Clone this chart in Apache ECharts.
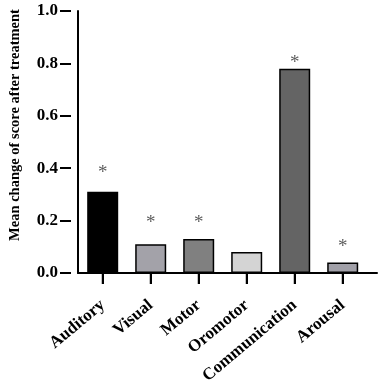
<!DOCTYPE html>
<html>
<head>
<meta charset="utf-8">
<script src="https://cdn.jsdelivr.net/npm/echarts@6/dist/echarts.min.js"></script>
<style>html,body{margin:0;padding:0;background:#fff;}#c{width:383px;height:387px;}</style>
</head>
<body>
<div id="c"></div>
<script>
var categories = ['Auditory', 'Visual', 'Motor', 'Oromotor', 'Communication', 'Arousal'];
var values = [0.31, 0.11, 0.13, 0.08, 0.78, 0.04];
var asteriskY = [0.40, 0.21, 0.21, null, 0.82, 0.12];
var yTicks = [0.0, 0.2, 0.4, 0.6, 0.8, 1.0];
var barColors = ['#000000', '#a3a2a9', '#808080', '#d4d4d4', '#646464', '#a1a0a8'];

var FONT = 'Liberation Serif, Times New Roman, serif';
var CLEAR = 'rgba(0,0,0,0)';
var yMin = yTicks[0], yMax = yTicks[yTicks.length - 1], yStep = 0.2;
var chart = echarts.init(document.getElementById('c'), null, {renderer: 'canvas'});

var hiddenAxisParts = {
  axisLine: {show: false}, axisTick: {show: false}, axisLabel: {show: false}, splitLine: {show: false}
};
function extend(a, b) { var o = {}, k; for (k in a) o[k] = a[k]; for (k in b) o[k] = b[k]; return o; }
var tickLine = {show: true, lineStyle: {color: '#000', width: 2}};

chart.setOption({
  animation: false,
  backgroundColor: '#ffffff',
  grid: [
    {left: 78.7, right: 16.3, top: 11, bottom: 114, containLabel: false},   // 0: bars + category labels
    {left: 71, right: 6, top: 11, bottom: 114, containLabel: false},        // 1: axis lines, y labels, title
    {left: 60, right: 312, top: 11, bottom: 114, containLabel: false},      // 2: y ticks
    {left: 102.7, right: 40.3, top: 273, bottom: 103, containLabel: false}  // 3: x ticks
  ],
  xAxis: [
    {
      type: 'category', gridIndex: 0, data: categories,
      axisLine: {show: false}, axisTick: {show: false}, splitLine: {show: false},
      axisLabel: {
        interval: 0, rotate: 40, margin: 30,
        color: '#000', fontFamily: FONT, fontWeight: 'bold', fontSize: 17
      }
    },
    extend(hiddenAxisParts, {
      type: 'value', gridIndex: 1, min: 0, max: 1,
      axisLine: {show: true, onZero: false, lineStyle: {color: '#000', width: 2}}
    }),
    extend(hiddenAxisParts, {type: 'value', gridIndex: 2, min: 0, max: 1, show: false}),
    extend(hiddenAxisParts, {
      type: 'value', gridIndex: 3, min: 0, max: categories.length - 1, interval: 1,
      splitLine: tickLine
    })
  ],
  yAxis: [
    extend(hiddenAxisParts, {type: 'value', gridIndex: 0, min: yMin, max: yMax, interval: yStep, show: false}),
    {
      type: 'value', gridIndex: 1,
      min: yMin, max: yMax, interval: yStep,
      splitLine: {show: false},
      axisLine: {show: true, onZero: false, lineStyle: {color: '#000', width: 2}},
      axisTick: {show: false},
      axisLabel: {
        margin: 20, color: '#000', fontFamily: FONT, fontWeight: 'bold', fontSize: 17,
        formatter: function (v) { return v.toFixed(1); }
      },
      name: 'Mean change of score after treatment',
      nameLocation: 'middle',
      nameGap: 55,
      nameTextStyle: {color: '#000', fontFamily: FONT, fontWeight: 'bold', fontSize: 14.5, padding: [0, 0, 0, 34]}
    },
    extend(hiddenAxisParts, {
      type: 'value', gridIndex: 2, min: yMin, max: yMax, interval: yStep,
      splitLine: tickLine
    }),
    extend(hiddenAxisParts, {type: 'value', gridIndex: 3, min: 0, max: 1, show: false})
  ],
  series: [
    {
      type: 'bar',
      xAxisIndex: 0, yAxisIndex: 0,
      barWidth: 31,
      data: values.map(function (v, i) {
        return {value: v, itemStyle: {color: barColors[i], borderColor: '#000', borderWidth: 1.5}};
      })
    },
    {
      type: 'scatter',
      xAxisIndex: 0, yAxisIndex: 0,
      symbol: 'circle',
      symbolSize: 2,
      itemStyle: {color: CLEAR},
      data: asteriskY.map(function (v) { return v === null ? '-' : v; }),
      label: {
        show: true, position: 'inside', formatter: '*',
        color: '#333', fontFamily: FONT, fontSize: 19, offset: [0, 5]
      },
      silent: true
    },
    {
      // category tick marks below the x axis, one per category
      type: 'scatter',
      xAxisIndex: 3, yAxisIndex: 3,
      symbol: 'rect',
      symbolSize: [2, 11],
      itemStyle: {color: '#000'},
      data: categories.map(function (c, i) { return [i, 0.5]; }),
      silent: true
    }
  ]
});
</script>
</body>
</html>
